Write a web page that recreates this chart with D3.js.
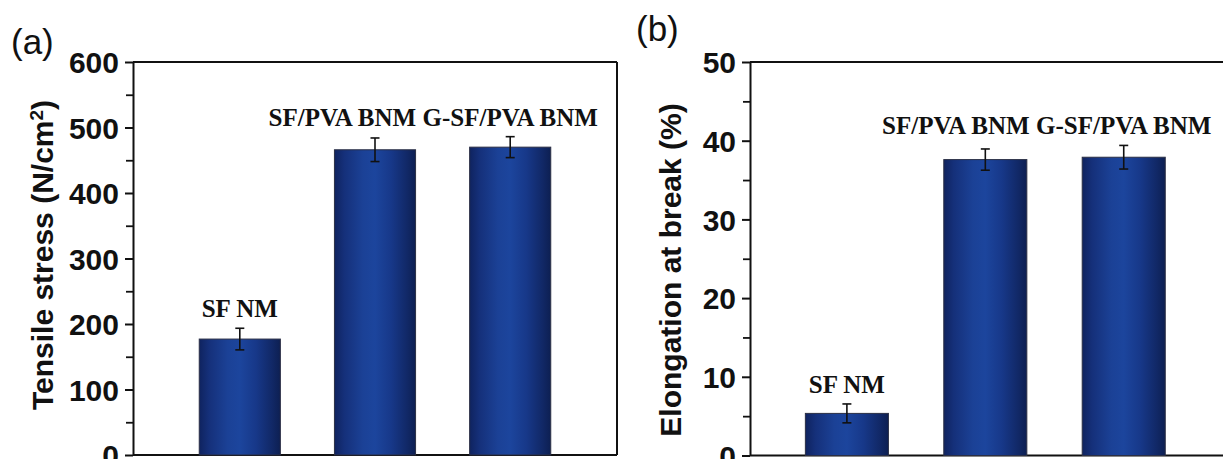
<!DOCTYPE html>
<html>
<head>
<meta charset="utf-8">
<script src="https://cdn.jsdelivr.net/npm/d3@7"></script>
<style>
  body { margin: 0; background: #fff; }
  svg { display: block; }
</style>
</head>
<body>
<div id="chart"></div>
<script>
// Data
const categories = ['SF NM', 'SF/PVA BNM', 'G-SF/PVA BNM']
const tensile = [177, 466, 470]
const tensileErr = [16.5, 18, 16]
const elongation = [5.35, 37.6, 37.9]
const elongationErr = [1.2, 1.35, 1.5]
const tensileTicks = [0, 100, 200, 300, 400, 500, 600]
const elongationTicks = [0, 10, 20, 30, 40, 50]

const W = 1223
const H = 459

const svg = d3.select('#chart')
    .append('svg')
    .attr('width', W)
    .attr('height', H)

// bar gradient
const grad = svg.append('defs').append('linearGradient')
    .attr('id', 'barGrad')
    .attr('x1', '0%').attr('x2', '100%').attr('y1', '0%').attr('y2', '0%')
const stops = [[0, '#0f235f'], [0.12, '#15307a'], [0.35, '#1b4196'], [0.5, '#1c459d'], [0.7, '#173889'], [0.9, '#112866'], [1, '#0d1f52']]
stops.forEach(s => grad.append('stop').attr('offset', s[0]).attr('stop-color', s[1]))

function panel(opt) {
    const g = svg.append('g')
    const x = d3.scaleLinear().domain(opt.xDomain).range([opt.left, opt.right])
    const y = d3.scaleLinear().domain([0, opt.yMax]).range([opt.bottom, opt.top])
    const bw = (x(2) - x(1)) * 0.6

    // frame top / right / bottom
    g.append('line')
        .attr('x1', opt.left).attr('x2', opt.right)
        .attr('y1', opt.top).attr('y2', opt.top)
        .attr('stroke', '#111').attr('stroke-width', 2)
    g.append('line')
        .attr('x1', opt.right).attr('x2', opt.right)
        .attr('y1', opt.top).attr('y2', opt.bottom)
        .attr('stroke', '#111').attr('stroke-width', 2)
    g.append('line')
        .attr('x1', opt.left).attr('x2', opt.right)
        .attr('y1', opt.bottom).attr('y2', opt.bottom)
        .attr('stroke', '#111').attr('stroke-width', 2)

    // y axis with minor ticks
    const step = opt.ticks[1] - opt.ticks[0]
    const minor = opt.ticks.slice(0, -1).map(t => t + step / 2)
    g.append('g')
        .attr('transform', `translate(${opt.left},0)`)
        .call(d3.axisLeft(y).tickValues(minor).tickSize(7).tickFormat(''))
        .call(a => a.select('.domain').remove())
        .call(a => a.selectAll('line').attr('stroke', '#111').attr('stroke-width', 1.8))
    g.append('g')
        .attr('transform', `translate(${opt.left},0)`)
        .call(d3.axisLeft(y).tickValues(opt.ticks).tickSize(8).tickSizeOuter(0).tickPadding(6))
        .call(a => a.select('.domain').attr('stroke', '#111').attr('stroke-width', 2))
        .call(a => a.selectAll('.tick line').attr('stroke', '#111').attr('stroke-width', 2))
        .call(a => a.selectAll('text')
            .attr('fill', '#111')
            .style('font-family', 'Liberation Sans, Arial, sans-serif')
            .style('font-weight', 'bold')
            .style('font-size', '30px')
            .attr('dy', '0.36em'))

    // bars
    g.selectAll('rect.bar')
        .data(opt.values)
        .enter()
        .append('rect')
        .attr('class', 'bar')
        .attr('x', (d, i) => x(i + 1) - bw / 2)
        .attr('y', d => y(d))
        .attr('width', bw)
        .attr('height', d => y(0) - y(d))
        .attr('fill', 'url(#barGrad)')
        .attr('stroke', '#2b2f45')
        .attr('stroke-width', 1)

    // error bars
    const eb = g.selectAll('g.err')
        .data(opt.values)
        .enter()
        .append('g')
        .attr('class', 'err')
        .attr('stroke', '#111')
        .attr('stroke-width', 1.6)
    eb.append('line')
        .attr('x1', (d, i) => x(i + 1)).attr('x2', (d, i) => x(i + 1))
        .attr('y1', (d, i) => y(d + opt.errs[i])).attr('y2', (d, i) => y(d - opt.errs[i]))
    eb.append('line')
        .attr('x1', (d, i) => x(i + 1) - 4.5).attr('x2', (d, i) => x(i + 1) + 4.5)
        .attr('y1', (d, i) => y(d + opt.errs[i])).attr('y2', (d, i) => y(d + opt.errs[i]))
    eb.append('line')
        .attr('x1', (d, i) => x(i + 1) - 4.5).attr('x2', (d, i) => x(i + 1) + 4.5)
        .attr('y1', (d, i) => y(d - opt.errs[i])).attr('y2', (d, i) => y(d - opt.errs[i]))

    // bar labels
    const tops = opt.values.map((d, i) => y(d + opt.errs[i]) - 11)
    const shared = Math.min(tops[1], tops[2])
    const labels = g.selectAll('text.lab')
        .data(categories)
        .enter()
        .append('text')
        .attr('class', 'lab')
        .attr('x', (d, i) => x(i + 1))
        .attr('y', (d, i) => i === 0 ? tops[0] : shared)
        .attr('text-anchor', 'middle')
        .attr('fill', '#111')
        .style('font-family', 'Liberation Serif, Times New Roman, serif')
        .style('font-weight', 'bold')
        .style('font-size', '25px')
        .text(d => d)
    // middle label pushed left so it ends just before the last one
    const lastNode = labels.nodes()[2]
    const lastStart = x(3) - lastNode.getComputedTextLength() / 2
    d3.select(labels.nodes()[1])
        .attr('text-anchor', 'end')
        .attr('x', lastStart - 6.5)

    // y title
    const title = g.append('text')
        .attr('transform', `translate(${opt.titleX},${opt.titleY}) rotate(-90)`)
        .attr('text-anchor', 'middle')
        .attr('fill', '#111')
        .style('font-family', 'Liberation Sans, Arial, sans-serif')
        .style('font-weight', 'bold')
        .style('font-size', '30px')
    opt.title(title)

    // panel letter
    g.append('text')
        .attr('x', opt.letterX).attr('y', opt.letterY)
        .attr('fill', '#111')
        .style('font-family', 'Liberation Sans, Arial, sans-serif')
        .style('font-size', '35px')
        .text(opt.letter)
}

panel({
    values: tensile, errs: tensileErr, yMax: 600, ticks: tensileTicks,
    xDomain: [0.21, 3.79], left: 133, right: 617, top: 62, bottom: 455,
    titleX: 53, titleY: 255, letter: '(a)', letterX: 11, letterY: 54,
    title: t => {
        t.append('tspan').text('Tensile stress (N/cm')
        t.append('tspan').attr('baseline-shift', 'super').style('font-size', '19px').text('2')
        t.append('tspan').text(')')
    }
})

panel({
    values: elongation, errs: elongationErr, yMax: 50, ticks: elongationTicks,
    xDomain: [0.3, 3.84], left: 750, right: 1240, top: 62, bottom: 455.5,
    titleX: 681, titleY: 270, letter: '(b)', letterX: 636, letterY: 41,
    title: t => t.text('Elongation at break (%)')
})
</script>
</body>
</html>
